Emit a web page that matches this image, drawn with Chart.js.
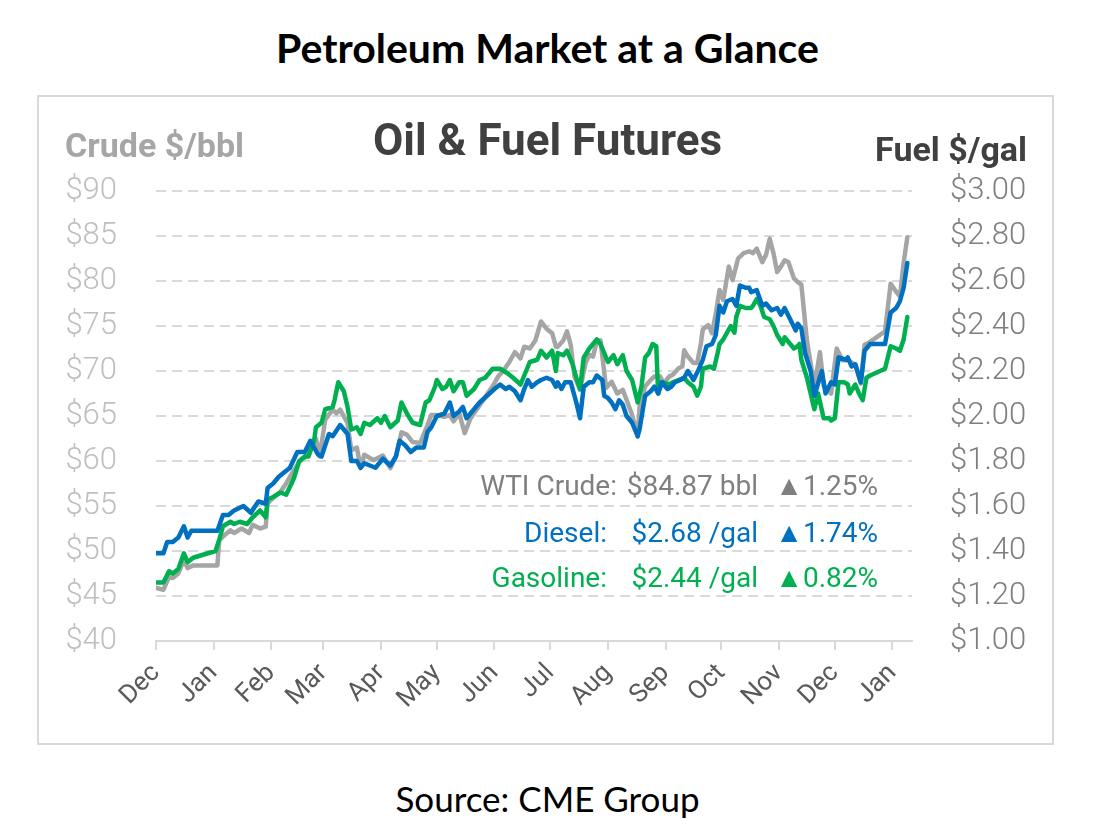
<!DOCTYPE html>
<html>
<head>
<meta charset="utf-8">
<script src="https://cdn.jsdelivr.net/npm/chart.js@4"></script>
<style>
  body { margin: 0; background: #fff; }
  #page { position: relative; width: 1095px; height: 831px; overflow: hidden; }
  .abs { position: absolute; white-space: nowrap; line-height: 1; }
  #pageTitle { left: 0; width: 1095px; text-align: center; top: 23px; font: bold 41px Lato, sans-serif; color: #000; }
  #source { left: 0; width: 1095px; text-align: center; top: 777px; font: 35px Lato, sans-serif; color: #000; }
  #box { position: absolute; left: 37px; top: 95px; width: 1017px; height: 650px; border: 2px solid #d9d9d9; box-sizing: border-box; }
  #chart { position: absolute; left: 0; top: 0; }
  .head { font-family: Roboto, sans-serif; font-weight: bold; }
  .note { font: 28px Roboto, sans-serif; }
</style>
</head>
<body>
<div id="page">
  <div id="pageTitle" class="abs">Petroleum Market at a Glance</div>
  <div id="box"><canvas id="chart" width="1013" height="646"></canvas></div>

  <div class="abs head" style="left:65px; top:128px; font-size:34px; color:#a6a6a6;">Crude $/bbl</div>
  <div class="abs head" style="left:373px; top:118px; font-size:44px; color:#404040;">Oil &amp; Fuel Futures</div>
  <div class="abs head" style="right:68px; top:132px; font-size:34px; color:#404040;">Fuel $/gal</div>

  <div class="abs note" style="right:478px; top:469px; color:#7f7f7f;">WTI Crude:</div>
  <div class="abs note" style="right:337px; top:469px; color:#7f7f7f;">$84.87 bbl</div>
  <div class="abs note" style="right:217px; top:469px; color:#7f7f7f;">▲1.25%</div>

  <div class="abs note" style="right:488px; top:516px; color:#0070c0;">Diesel:</div>
  <div class="abs note" style="right:337px; top:516px; color:#0070c0;">$2.68 /gal</div>
  <div class="abs note" style="right:217px; top:516px; color:#0070c0;">▲1.74%</div>

  <div class="abs note" style="right:488px; top:561px; color:#00b050;">Gasoline:</div>
  <div class="abs note" style="right:337px; top:561px; color:#00b050;">$2.44 /gal</div>
  <div class="abs note" style="right:217px; top:561px; color:#00b050;">▲0.82%</div>

  <div id="source" class="abs">Source: CME Group</div>
</div>
<script>
// days counted from Dec 1 (first month on the axis)
const monthStarts = [0, 31, 62, 90, 121, 151, 182, 212, 243, 274, 304, 335, 365, 396];
const monthLabels = ['Dec', 'Jan', 'Feb', 'Mar', 'Apr', 'May', 'Jun', 'Jul', 'Aug', 'Sep', 'Oct', 'Nov', 'Dec', 'Jan'];

// WTI crude, $/bbl (left axis)
const crudeDays = [0, 4, 7, 9, 12, 15, 17, 20, 33, 34, 36, 40, 42, 46, 50, 52, 56, 59, 60, 63,
  67, 70, 73, 77, 80, 83, 86, 88, 91, 95, 97, 99, 103, 105, 108, 110, 112, 117, 122, 126,
  129, 132, 135, 138, 142, 146, 148, 151, 155, 158, 160, 163, 166, 169, 173, 177, 181, 184, 187, 190,
  193, 196, 198, 201, 204, 207, 210, 213, 215, 216, 219, 221, 223, 225, 228, 231, 233, 235, 237, 239,
  241, 242, 245, 248, 251, 253, 256, 259, 260, 263, 266, 268, 271, 273, 276, 278, 281, 283, 284, 286,
  289, 291, 293, 294, 297, 299, 301, 303, 305, 308, 310, 313, 316, 319, 321, 323, 326, 328, 330, 332,
  334, 336, 338, 340, 343, 345, 347, 350, 354, 357, 359, 363, 366, 369, 372, 376, 379, 381, 383, 392,
  395, 398, 400, 402, 404];
const crude = [45.9, 45.7, 47.1, 47.0, 47.5, 49.0, 48.1, 48.4, 48.4, 51.2, 51.6, 52.3, 52.0, 52.5, 52.0, 52.9, 52.5, 52.7, 55.3, 55.9,
  56.6, 57.5, 58.6, 59.9, 60.4, 61.8, 62.5, 60.5, 64.6, 65.7, 65.3, 65.7, 64.2, 61.2, 61.5, 59.2, 60.7, 60.1, 60.6, 59.2,
  60.5, 63.2, 62.9, 62.1, 62.0, 64.0, 65.1, 65.1, 64.9, 65.1, 64.4, 65.3, 63.1, 64.7, 65.9, 67.1, 68.3, 69.4, 70.1, 71.0,
  72.1, 71.4, 72.7, 72.5, 73.4, 75.5, 74.7, 74.2, 72.7, 72.7, 73.4, 74.4, 72.9, 69.4, 67.9, 70.9, 71.8, 71.6, 73.3, 73.4,
  69.9, 68.1, 68.8, 67.5, 67.9, 66.8, 65.1, 62.7, 66.0, 68.3, 69.0, 69.4, 69.4, 68.6, 69.4, 69.6, 70.3, 70.5, 72.3, 71.6,
  70.9, 70.9, 73.1, 74.6, 75.1, 74.2, 76.4, 79.0, 77.9, 81.6, 80.1, 82.5, 83.1, 83.3, 83.1, 83.6, 82.1, 82.9, 84.7, 83.1,
  81.0, 81.6, 82.3, 82.1, 80.3, 79.9, 79.6, 73.4, 68.3, 72.1, 68.4, 67.5, 72.5, 71.2, 71.2, 70.7, 68.6, 72.9, 73.1, 74.4,
  79.7, 78.8, 78.3, 82.0, 84.87];

// ULSD diesel, $/gal (right axis)
const dieselDays = [0, 4, 6, 9, 12, 15, 17, 19, 33, 36, 39, 42, 47, 51, 55, 59, 60, 63, 66, 69,
  72, 76, 80, 83, 87, 89, 93, 95, 99, 103, 105, 108, 110, 112, 118, 122, 126, 129, 131, 134,
  137, 140, 144, 146, 148, 151, 155, 158, 160, 163, 165, 167, 171, 174, 178, 182, 185, 188, 190, 193,
  196, 198, 200, 202, 205, 207, 210, 213, 215, 216, 218, 220, 223, 224, 226, 228, 230, 233, 235, 237,
  240, 241, 243, 245, 247, 249, 251, 253, 256, 259, 260, 263, 266, 268, 270, 272, 275, 277, 279, 282,
  284, 286, 289, 292, 294, 296, 299, 301, 303, 305, 307, 310, 312, 314, 317, 319, 320, 323, 326, 328,
  331, 334, 336, 338, 341, 344, 345, 347, 349, 352, 354, 358, 360, 363, 365, 367, 371, 372, 374, 376,
  379, 381, 384, 392, 395, 398, 400, 402, 404];
const diesel = [1.39, 1.39, 1.44, 1.44, 1.46, 1.51, 1.46, 1.49, 1.49, 1.56, 1.56, 1.58, 1.60, 1.57, 1.62, 1.61, 1.68, 1.70, 1.73, 1.75,
  1.77, 1.84, 1.84, 1.89, 1.83, 1.82, 1.92, 1.91, 1.96, 1.92, 1.80, 1.80, 1.77, 1.79, 1.77, 1.81, 1.78, 1.82, 1.89, 1.87,
  1.84, 1.86, 1.86, 1.93, 1.95, 2.00, 2.01, 2.06, 2.00, 2.02, 2.04, 1.99, 2.03, 2.06, 2.09, 2.12, 2.14, 2.12, 2.13, 2.11,
  2.07, 2.12, 2.16, 2.13, 2.15, 2.16, 2.17, 2.16, 2.13, 2.15, 2.12, 2.15, 2.15, 2.12, 2.06, 1.99, 2.13, 2.15, 2.15, 2.18,
  2.16, 2.09, 2.08, 2.06, 2.03, 2.07, 2.05, 2.00, 1.97, 1.91, 1.94, 2.09, 2.11, 2.13, 2.10, 2.15, 2.12, 2.13, 2.15, 2.16,
  2.17, 2.20, 2.16, 2.21, 2.25, 2.31, 2.32, 2.36, 2.49, 2.46, 2.51, 2.52, 2.49, 2.58, 2.57, 2.57, 2.55, 2.56, 2.49, 2.50,
  2.47, 2.48, 2.45, 2.48, 2.43, 2.38, 2.41, 2.39, 2.28, 2.20, 2.09, 2.20, 2.10, 2.15, 2.14, 2.26, 2.25, 2.26, 2.22, 2.23,
  2.15, 2.29, 2.32, 2.32, 2.46, 2.48, 2.51, 2.57, 2.68];

// RBOB gasoline, $/gal (right axis)
const gasolineDays = [0, 4, 7, 9, 12, 15, 17, 20, 32, 34, 36, 38, 40, 42, 45, 49, 52, 56, 59, 60,
  63, 67, 70, 74, 77, 80, 82, 85, 86, 89, 91, 95, 96, 98, 101, 103, 105, 108, 110, 112,
  115, 119, 121, 123, 126, 130, 132, 135, 138, 142, 145, 147, 150, 151, 154, 156, 158, 160, 163, 165,
  167, 171, 174, 177, 181, 185, 189, 192, 196, 198, 201, 205, 207, 210, 213, 215, 216, 219, 221, 224,
  226, 228, 230, 233, 235, 237, 239, 242, 243, 246, 248, 251, 253, 256, 259, 261, 263, 265, 267, 269,
  270, 272, 276, 278, 281, 284, 286, 289, 291, 293, 294, 298, 300, 302, 303, 305, 307, 309, 311, 312,
  314, 317, 320, 321, 323, 325, 327, 330, 332, 334, 337, 338, 341, 343, 345, 346, 347, 350, 354, 356,
  359, 362, 363, 365, 367, 370, 372, 373, 376, 378, 380, 382, 384, 392, 395, 398, 400, 402, 404];
const gasoline = [1.26, 1.26, 1.31, 1.30, 1.32, 1.39, 1.35, 1.37, 1.40, 1.45, 1.51, 1.52, 1.53, 1.52, 1.53, 1.52, 1.55, 1.58, 1.55, 1.63,
  1.64, 1.66, 1.65, 1.72, 1.80, 1.82, 1.82, 1.89, 1.95, 1.97, 2.03, 2.04, 2.07, 2.15, 2.11, 2.04, 1.94, 1.95, 1.92, 1.97,
  1.96, 1.99, 1.97, 2.00, 1.95, 1.98, 2.06, 2.01, 1.97, 1.96, 2.06, 2.07, 2.13, 2.16, 2.12, 2.13, 2.16, 2.11, 2.15, 2.15,
  2.09, 2.12, 2.16, 2.17, 2.21, 2.21, 2.19, 2.17, 2.14, 2.18, 2.24, 2.25, 2.29, 2.26, 2.29, 2.20, 2.28, 2.27, 2.29, 2.23,
  2.17, 2.12, 2.26, 2.30, 2.32, 2.34, 2.32, 2.26, 2.24, 2.27, 2.23, 2.27, 2.20, 2.16, 2.06, 2.13, 2.26, 2.28, 2.32, 2.31,
  2.10, 2.15, 2.14, 2.15, 2.16, 2.17, 2.15, 2.13, 2.09, 2.13, 2.21, 2.22, 2.21, 2.28, 2.32, 2.34, 2.37, 2.40, 2.37, 2.44,
  2.49, 2.48, 2.48, 2.49, 2.52, 2.49, 2.44, 2.43, 2.40, 2.36, 2.32, 2.35, 2.32, 2.30, 2.31, 2.32, 2.25, 2.17, 2.03, 2.10,
  1.99, 1.99, 1.98, 1.99, 2.15, 2.15, 2.14, 2.10, 2.14, 2.10, 2.07, 2.17, 2.18, 2.21, 2.31, 2.30, 2.29, 2.34, 2.44];

const pairs = (xs, ys) => xs.map((x, i) => ({ x: x, y: ys[i] }));

const dash = [10, 6];

new Chart(document.getElementById('chart'), {
  type: 'line',
  data: {
    datasets: [
      { label: 'Diesel', data: pairs(dieselDays, diesel), yAxisID: 'y1', borderColor: '#0070c0', borderWidth: 4.5, order: 1 },
      { label: 'Gasoline', data: pairs(gasolineDays, gasoline), yAxisID: 'y1', borderColor: '#00b050', borderWidth: 4.5, order: 2 },
      { label: 'WTI Crude', data: pairs(crudeDays, crude), yAxisID: 'y', borderColor: '#a5a5a5', borderWidth: 4.5, order: 3 }
    ]
  },
  options: {
    responsive: false,
    animation: false,
    layout: { padding: { top: 94, left: 0, right: 0, bottom: 0 } },
    elements: {
      point: { radius: 0 },
      line: { tension: 0, borderJoinStyle: 'round', borderCapStyle: 'round' }
    },
    plugins: { legend: { display: false }, tooltip: { enabled: false } },
    scales: {
      x: {
        type: 'linear',
        min: 0,
        max: 406.5,
        afterBuildTicks: s => { s.ticks = monthStarts.map(v => ({ value: v })); },
        afterFit: s => { s.height = 102; },
        grid: { drawOnChartArea: false, drawTicks: true, tickLength: 9, color: '#d9d9d9', lineWidth: 2 },
        border: { display: true, color: '#d9d9d9', width: 2 },
        ticks: {
          autoSkip: false,
          maxRotation: 45,
          minRotation: 45,
          padding: 8,
          color: '#595959',
          font: { family: 'Roboto', size: 26 },
          callback: (v, i) => monthLabels[i]
        }
      },
      y: {
        position: 'left',
        min: 40,
        max: 90,
        afterFit: s => { s.width = 117; },
        grid: { color: '#d9d9d9', lineWidth: 2, drawTicks: false },
        border: { display: false, dash: dash },
        ticks: {
          stepSize: 5,
          padding: 39,
          color: '#bfbfbf',
          font: { family: 'Roboto', size: 31, weight: '300' },
          callback: v => '$' + v
        }
      },
      y1: {
        position: 'right',
        min: 1,
        max: 3,
        afterFit: s => { s.width = 140; },
        grid: { display: false, drawTicks: false },
        border: { display: false },
        ticks: {
          stepSize: 0.2,
          padding: 38,
          color: '#7f7f7f',
          font: { family: 'Roboto', size: 31, weight: '300' },
          callback: v => '$' + v.toFixed(2)
        }
      }
    }
  }
});
</script>
</body>
</html>
